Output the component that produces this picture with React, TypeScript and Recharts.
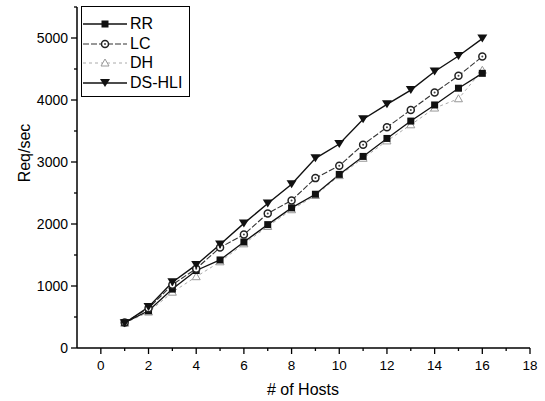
import React from 'react';
import { LineChart, Line, XAxis, YAxis, Legend } from 'recharts';

const hosts = [1, 2, 3, 4, 5, 6, 7, 8, 9, 10, 11, 12, 13, 14, 15, 16];
const rr = [410, 600, 950, 1250, 1420, 1710, 1990, 2260, 2480, 2800, 3090, 3380, 3660, 3920, 4190, 4430];
const lc = [410, 640, 1020, 1280, 1620, 1830, 2170, 2380, 2740, 2940, 3280, 3560, 3840, 4120, 4390, 4700];
const dh = [400, 580, 900, 1150, 1390, 1680, 1960, 2230, 2460, 2780, 3060, 3340, 3600, 3870, 4020, 4480];
const dshli = [400, 660, 1060, 1340, 1670, 2010, 2330, 2640, 3060, 3290, 3690, 3930, 4160, 4460, 4710, 4990];

const xTicks = [0, 1, 2, 3, 4, 5, 6, 7, 8, 9, 10, 11, 12, 13, 14, 15, 16, 17, 18];
const yTicks = [0, 500, 1000, 1500, 2000, 2500, 3000, 3500, 4000, 4500, 5000, 5500];

const data = hosts.map((h, i) => ({ hosts: h, RR: rr[i], LC: lc[i], DH: dh[i], DSHLI: dshli[i] }));

const FONT = '"Liberation Sans", Arial, Helvetica, sans-serif';

type Kind = 'square' | 'circle' | 'up' | 'down';

const Marker = ({ kind, cx, cy }: { kind: Kind; cx: number; cy: number }) => {
  if (kind === 'square') return <rect x={cx - 3.5} y={cy - 3.5} width={7} height={7} fill="#111" />;
  if (kind === 'circle')
    return (
      <g>
        <circle cx={cx} cy={cy} r={3.5} fill="#fff" stroke="#222" strokeWidth={1.5} />
        <circle cx={cx} cy={cy} r={1} fill="#444" />
      </g>
    );
  if (kind === 'up')
    return <path d={`M${cx},${cy - 4} L${cx + 4},${cy + 3} L${cx - 4},${cy + 3} Z`} fill="#fff" stroke="#999" strokeWidth={1} />;
  return <path d={`M${cx - 5},${cy - 4} L${cx + 5},${cy - 4} L${cx},${cy + 4} Z`} fill="#111" />;
};

const series = [
  { key: 'DH', name: 'DH', kind: 'up' as Kind, stroke: '#aaa', dash: '3 3', width: 1 },
  { key: 'RR', name: 'RR', kind: 'square' as Kind, stroke: '#111', dash: undefined, width: 1.3 },
  { key: 'LC', name: 'LC', kind: 'circle' as Kind, stroke: '#333', dash: '6 2', width: 1.1 },
  { key: 'DSHLI', name: 'DS-HLI', kind: 'down' as Kind, stroke: '#111', dash: undefined, width: 1.4 },
];
const legendOrder = ['RR', 'LC', 'DH', 'DSHLI'];

const XTick = (props: any) => {
  const { x, y, payload } = props;
  const major = payload.value % 2 === 0;
  return (
    <g>
      <line x1={x} y1={y} x2={x} y2={y + (major ? 6 : 3)} stroke="#000" strokeWidth={1.3} />
      {major && (
        <text x={x} y={y + 12} dy="0.71em" textAnchor="middle" fontSize={13.5} fontFamily={FONT} fill="#000">
          {payload.value}
        </text>
      )}
    </g>
  );
};

const YTick = (props: any) => {
  const { x, y, payload } = props;
  const major = payload.value % 1000 === 0;
  return (
    <g>
      <line x1={x} y1={y} x2={x - (major ? 6 : 3)} y2={y} stroke="#000" strokeWidth={1.3} />
      {major && (
        <text x={x - 9} y={y} dy="0.36em" textAnchor="end" fontSize={14} fontFamily={FONT} fill="#000">
          {payload.value}
        </text>
      )}
    </g>
  );
};

const LegendBox = () => (
  <div
    style={{
      border: '1px solid #000',
      width: 109,
      height: 91,
      boxSizing: 'border-box',
      background: '#fff',
      paddingTop: 7,
      fontFamily: FONT,
    }}
  >
    {legendOrder.map((k) => {
      const s = series.find((q) => q.key === k)!;
      return (
        <div key={k} style={{ display: 'flex', alignItems: 'center', height: 19.7 }}>
          <svg width={47} height={16} style={{ display: 'block' }}>
            <line x1={1} y1={8} x2={45} y2={8} stroke={s.stroke} strokeWidth={s.width} strokeDasharray={s.dash} />
            <Marker kind={s.kind} cx={23} cy={8} />
          </svg>
          <span style={{ fontSize: 16, color: '#000', marginLeft: 1 }}>{s.name}</span>
        </div>
      );
    })}
  </div>
);

export default function App() {
  return (
    <div style={{ position: 'absolute', left: 0, top: 0 }}>
      <LineChart width={545} height={401} data={data} margin={{ top: 7, right: 15, left: 0, bottom: 0 }}>
        <XAxis
          dataKey="hosts"
          type="number"
          domain={[-1, 18]}
          ticks={xTicks}
          interval={0}
          tickSize={0}
          tickMargin={0}
          tickLine={false}
          tick={<XTick />}
          height={53}
          axisLine={{ stroke: '#000', strokeWidth: 1.5 }}
          label={{
            content: () => (
              <text x={303} y={389} textAnchor="middle" dominantBaseline="central" fontSize={16} fontFamily={FONT} fill="#000">
                # of Hosts
              </text>
            ),
          }}
        />
        <YAxis
          type="number"
          domain={[0, 5500]}
          ticks={yTicks}
          interval={0}
          tickSize={0}
          tickMargin={0}
          tickLine={false}
          tick={<YTick />}
          width={77}
          axisLine={{ stroke: '#000', strokeWidth: 1.5 }}
          label={{
            content: () => (
              <text
                x={24}
                y={153}
                transform="rotate(-90 24 153)"
                textAnchor="middle"
                dominantBaseline="central"
                fontSize={16}
                fontFamily={FONT}
                fill="#000"
              >
                Req/sec
              </text>
            ),
          }}
        />
        <Legend
          layout="vertical"
          align="center"
          verticalAlign="middle"
          wrapperStyle={{ left: 81, top: 6, width: 'auto' }}
          content={<LegendBox />}
        />
        {series.map((s) => (
          <Line
            key={s.key}
            dataKey={s.key}
            name={s.name}
            stroke={s.stroke}
            strokeWidth={s.width}
            strokeDasharray={s.dash}
            isAnimationActive={false}
            dot={(p: any) => <Marker key={`${s.key}-${p.index}`} kind={s.kind} cx={p.cx} cy={p.cy} />}
            activeDot={false}
          />
        ))}
      </LineChart>
    </div>
  );
}
